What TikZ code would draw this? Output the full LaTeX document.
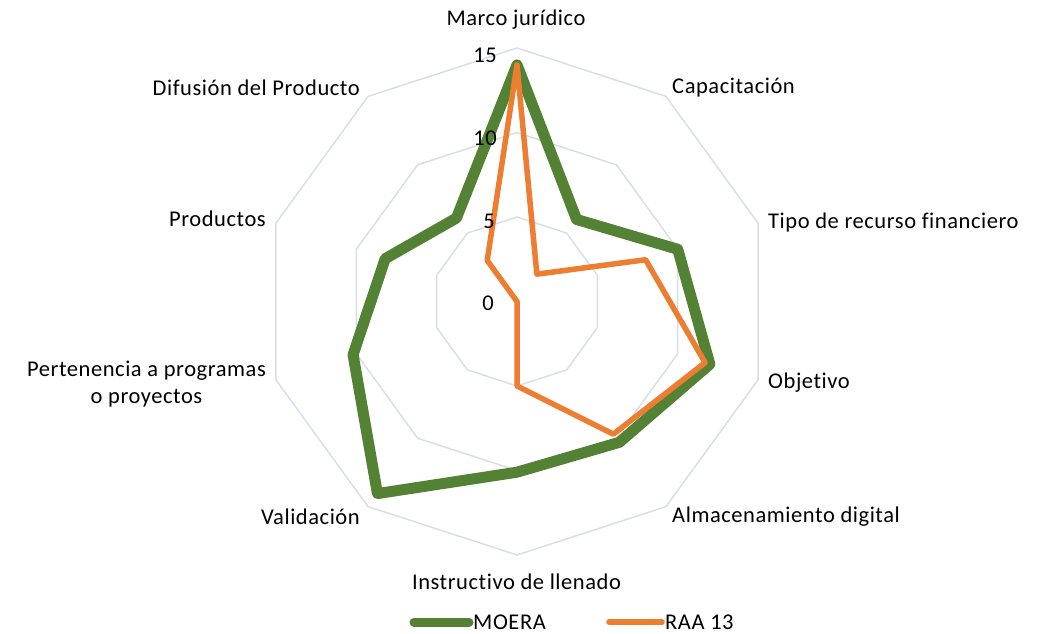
\documentclass[tikz,border=0pt]{standalone}
\usepackage{fontspec}
\setmainfont[LetterSpace=2.5,Ligatures=NoCommon]{Carlito}
\usetikzlibrary{calc}
\definecolor{moera}{HTML}{548235}
\definecolor{raa}{HTML}{ED7D31}
\definecolor{gridc}{HTML}{D9DEE6}
\begin{document}
\begin{tikzpicture}[x=1pt,y=1pt,
  lbl/.style={font=\fontsize{22.5}{27}\selectfont, inner sep=0pt, text=black},
  gridline/.style={draw=gridc, line width=1.5},
  moeraline/.style={draw=moera, line width=11, line join=round, line cap=round},
  raaline/.style={draw=raa, line width=5.5, line join=round, line cap=round}]
\useasboundingbox (0,0) rectangle (1044,-634);
\coordinate (C) at (517,-301.5);
% grid rings
\foreach \r in {5,10,15}
  \draw[gridline] ($(C)+(90:\r*16.9)$) \foreach \i in {1,...,9}{ -- ($(C)+(90-36*\i:\r*16.9)$)} -- cycle;
% data points
\foreach \v [count=\i from 0] in {14,6,10,12,10.3,10.1,14.05,10.2,8.2,6.1}
  \coordinate (g\i) at ($(C)+(90-36*\i:\v*16.9)$);
\foreach \v [count=\i from 0] in {14,2,8,11.7,9.7,5,0,0,0,3}
  \coordinate (o\i) at ($(C)+(90-36*\i:\v*16.9)$);
\draw[moeraline] (g0) -- (g1) -- (g2) -- (g3) -- (g4) -- (g5) -- (g6) -- (g7) -- (g8) -- (g9) -- cycle;
\draw[raaline] (o0) -- (o1) -- (o2) -- (o3) -- (o4) -- (o5) -- (o6) -- (o7) -- (o8) -- (o9) -- cycle;
% scale numbers
\node[lbl, anchor=east] (n15) at (497,-55) {15};
\node[lbl, anchor=east] (n10) at (497,-138) {10};
\node[lbl, anchor=east] (n5) at (495,-221) {5};
\node[lbl, anchor=east] (n0) at (494,-303) {0};
% axis labels
\node[lbl] (a0) at (516,-20) {Marco jurídico};
\node[lbl, anchor=west] (a1) at (672,-88) {Capacitación};
\node[lbl, anchor=west] (a2) at (768,-222) {Tipo de recurso financiero};
\node[lbl, anchor=west] (a3) at (768,-383) {Objetivo};
\node[lbl, anchor=west] (a4) at (672,-517) {Almacenamiento digital};
\node[lbl] (a5) at (516.5,-582) {Instructivo de llenado};
\node[lbl, anchor=east] (a6) at (360,-517) {Validación};
\node[lbl, anchor=east, align=center] (a7) at (266,-384) {Pertenencia a programas\\o proyectos};
\node[lbl, anchor=east] (a8) at (266,-219) {Productos};
\node[lbl, anchor=east] (a9) at (360,-88) {Difusión del Producto};
% legend
\coordinate (l1a) at (414,-622);
\coordinate (l1b) at (469,-622);
\draw[draw=moera, line width=9, line cap=round] (l1a) -- (l1b);
\node[lbl, anchor=west] (lm) at (473,-622) {MOERA};
\coordinate (l2a) at (609,-622);
\coordinate (l2b) at (662,-622);
\draw[draw=raa, line width=5.5, line cap=round] (l2a) -- (l2b);
\node[lbl, anchor=west] (lr) at (665,-622) {RAA 13};
\end{tikzpicture}
\end{document}
